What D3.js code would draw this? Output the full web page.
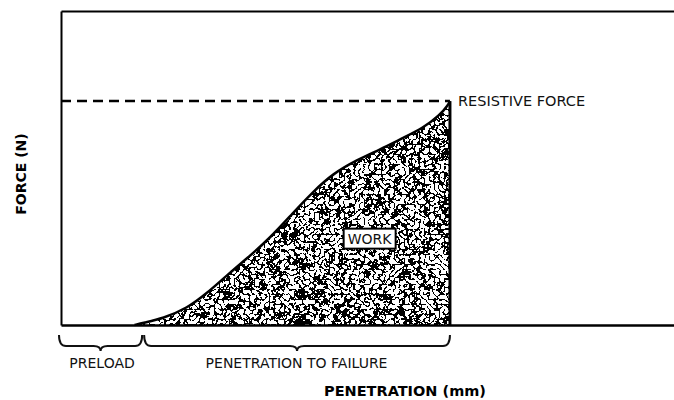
<!DOCTYPE html>
<html><head><meta charset="utf-8">
<script src="https://cdn.jsdelivr.net/npm/d3@7"></script>
<style>body{margin:0;background:#fff}svg{display:block}text{font-family:"DejaVu Sans",Verdana,sans-serif}</style>
</head><body><svg id="chart" width="674" height="400"></svg>
<script>
// ---- data (penetration in mm, force in N, arbitrary schematic units) ----
const penetration = [2.4, 2.68, 3.33, 4.11, 4.76, 5.42, 6.07, 6.82, 7.57, 8.22, 8.87, 9.66, 10.41, 11.16, 11.81, 12.37, 12.63, 12.69];
const force       = [0,   0.7,  2.1,  5.3,  10.1, 15.9, 21.2, 27.7, 35.7, 42.4, 48.2, 52.6, 55.9,  59.6,  62.7,  66.9,  70.1,  71.3];
const preloadEnd = 2.68;
const failurePoint = 12.69;
const resistiveForce = 71.3;
const workLabelPos = [10.07, 27.5];
const phaseLabels = ["PRELOAD", "PENETRATION TO FAILURE"];
const xTitle = "PENETRATION (mm)";
const yTitle = "FORCE (N)";
const resistiveLabel = "RESISTIVE FORCE";
const workLabel = "WORK";

const svg = d3.select("#chart");
const x = d3.scaleLinear().domain([0, 20]).range([61, 674]);
const y = d3.scaleLinear().domain([0, 100]).range([325, 11]);

// texture filter
const defs = svg.append("defs");
const f = defs.append("filter").attr("id", "tex").attr("filterUnits", "userSpaceOnUse")
  .attr("x", 0).attr("y", 0).attr("width", 674).attr("height", 400);
f.append("feTurbulence").attr("type", "turbulence").attr("baseFrequency", 0.2)
  .attr("numOctaves", 2).attr("seed", 7).attr("result", "t");
f.append("feColorMatrix").attr("type", "matrix")
  .attr("values", "0 0 0 0 0  0 0 0 0 0  0 0 0 0 0  1 0 0 0 0");
f.append("feComponentTransfer").append("feFuncA").attr("type", "discrete").attr("tableValues", "1 1 0 0 0 0 0 0 0");

const pts = penetration.map((p, i) => [p, force[i]]);
const area = d3.area().x(d => x(d[0])).y0(y(0)).y1(d => y(d[1])).curve(d3.curveBasis);
const line = d3.line().x(d => x(d[0])).y(d => y(d[1])).curve(d3.curveBasis);

defs.append("clipPath").attr("id", "areaClip").append("path").attr("d", area(pts));
const g = svg.append("g").attr("clip-path", "url(#areaClip)");
g.append("rect").attr("x", x(0)).attr("y", y(100)).attr("width", x(20) - x(0)).attr("height", y(0) - y(100)).attr("fill", "#fff");
g.append("rect").attr("x", x(0)).attr("y", y(100)).attr("width", x(20) - x(0)).attr("height", y(0) - y(100)).attr("fill", "#000").attr("filter", "url(#tex)");

svg.append("path").attr("d", line(pts)).attr("fill", "none").attr("stroke", "#000").attr("stroke-width", 2.5);

// axes (frame)
const axB = d3.axisBottom(x).tickValues([]).tickSizeOuter(0);
const axL = d3.axisLeft(y).tickValues([]).tickSizeOuter(0);
const axT = d3.axisTop(x).tickValues([]).tickSizeOuter(0);
svg.append("g").attr("transform", `translate(0,${y(0)})`).call(axB).select(".domain").attr("stroke-width", 2.5);
svg.append("g").attr("transform", `translate(${x(0)},0)`).call(axL).select(".domain").attr("stroke-width", 2);
svg.append("g").attr("transform", `translate(0,${y(100)})`).call(axT).select(".domain").attr("stroke-width", 2);

// failure vertical line
svg.append("line").attr("x1", x(failurePoint)).attr("x2", x(failurePoint))
  .attr("y1", y(resistiveForce)).attr("y2", y(0)).attr("stroke", "#000").attr("stroke-width", 3);

// resistive force dashed line
svg.append("line").attr("x1", x(0)).attr("x2", x(failurePoint)).attr("y1", y(resistiveForce)).attr("y2", y(resistiveForce))
  .attr("stroke", "#000").attr("stroke-width", 2.5).attr("stroke-dasharray", "10,6");
svg.append("text").attr("x", x(failurePoint) + 8).attr("y", y(resistiveForce) + 5)
  .attr("font-size", 14.5).attr("fill", "#111").text(resistiveLabel);

// work label
const wg = svg.append("g").attr("transform", `translate(${x(workLabelPos[0])},${y(workLabelPos[1])})`);
wg.append("rect").attr("x", -26).attr("y", -10).attr("width", 52).attr("height", 20)
  .attr("fill", "#fff").attr("stroke", "#000").attr("stroke-width", 2);
wg.append("text").attr("text-anchor", "middle").attr("y", 5.5).attr("font-size", 14).attr("fill", "#111").text(workLabel);

// braces
function brace(x1, x2, y0) {
  const mid = (x1 + x2) / 2, y1 = y0 + 11, y2 = y0 + 16, r = 7;
  return `M${x1},${y0} Q${x1},${y1} ${x1 + r},${y1} L${mid - r},${y1} Q${mid},${y1} ${mid},${y2} Q${mid},${y1} ${mid + r},${y1} L${x2 - r},${y1} Q${x2},${y1} ${x2},${y0}`;
}
const spans = [[0, preloadEnd], [preloadEnd, failurePoint]];
spans.forEach((s, i) => {
  const x1 = x(s[0]) - (i === 0 ? 2 : -1), x2 = x(s[1]) - (i === 0 ? 1 : 0);
  svg.append("path").attr("d", brace(x1, x2, 335)).attr("fill", "none").attr("stroke", "#111").attr("stroke-width", 2);
  svg.append("text").attr("x", (x(s[0]) + x(s[1])) / 2).attr("y", 368).attr("text-anchor", "middle")
    .attr("font-size", 14).attr("fill", "#111").text(phaseLabels[i]);
});

// axis titles
svg.append("text").attr("x", 405).attr("y", 396).attr("text-anchor", "middle").attr("font-size", 14.5)
  .attr("font-weight", "bold").attr("fill", "#000").text(xTitle);
svg.append("text").attr("transform", "translate(26,174) rotate(-90)").attr("text-anchor", "middle")
  .attr("font-size", 14).attr("font-weight", "bold").attr("fill", "#000").text(yTitle);
</script></body></html>
